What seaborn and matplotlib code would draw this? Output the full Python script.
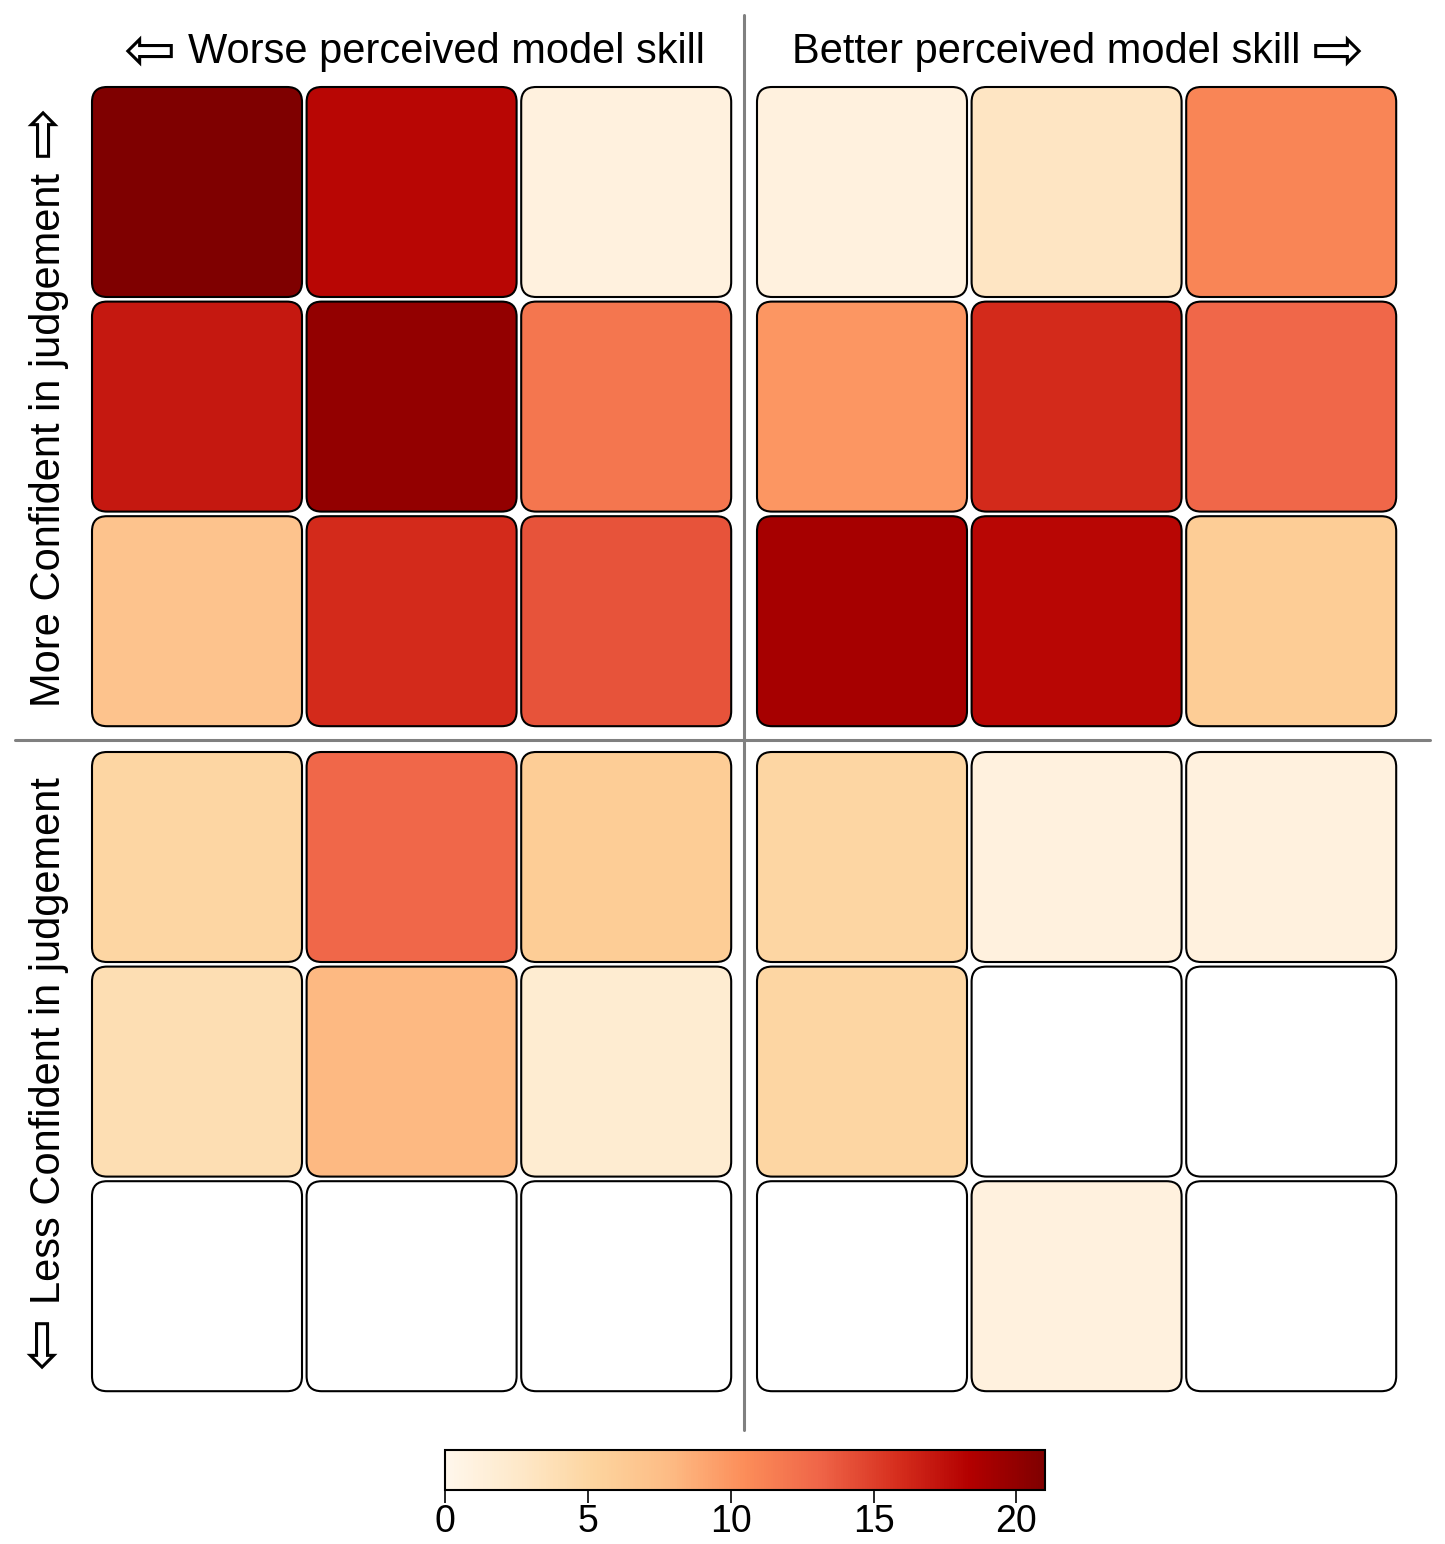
import numpy as np
import pandas as pd
import matplotlib.pyplot as plt
import seaborn as sns
from matplotlib.patches import FancyBboxPatch
from matplotlib.lines import Line2D

# counts per cell, top row = most confident, left columns = worse skill
row0 = [21, 18, 1, 1, 3, 11]
row1 = [17, 20, 12, 10, 16, 13]
row2 = [7, 16, 14, 19, 18, 6]
row3 = [5, 13, 6, 5, 1, 1]
row4 = [4, 8, 2, 5, 0, 0]
row5 = [0, 0, 0, 0, 1, 0]
cbar_ticks = [0, 5, 10, 15, 20]
vmax = 21

df = pd.DataFrame([row0, row1, row2, row3, row4, row5])

sns.set_style('white')
plt.rcParams['font.family'] = ['Liberation Sans', 'DejaVu Sans']
plt.rcParams['text.color'] = 'black'
plt.rcParams['xtick.color'] = 'black'

W, H = 1445, 1544
fig = plt.figure(figsize=(W / 100, H / 100), dpi=100)

side = 643.8
lefts = [89.7, 754.7]
tops = [84.7, 749.7]
cax = fig.add_axes([445 / W, 1 - 1490 / H, 600 / W, 40 / H])

pad = 2.3 / 214.6
for qi in range(2):
    for qj in range(2):
        ax = fig.add_axes([lefts[qj] / W, 1 - (tops[qi] + side) / H, side / W, side / H])
        sub = df.iloc[3 * qi:3 * qi + 3, 3 * qj:3 * qj + 3]
        first = qi == 0 and qj == 0
        sns.heatmap(sub, ax=ax, cmap='OrRd', vmin=0, vmax=vmax, mask=sub == 0,
                    cbar=first, cbar_ax=cax if first else None,
                    cbar_kws={'orientation': 'horizontal', 'ticks': cbar_ticks},
                    xticklabels=False, yticklabels=False)
        mesh = ax.collections[0]
        mesh.set_visible(False)
        for i in range(3):
            for j in range(3):
                v = sub.iloc[i, j]
                fc = mesh.cmap(mesh.norm(v)) if v > 0 else 'white'
                box = FancyBboxPatch((j + pad, i + pad), 1 - 2 * pad, 1 - 2 * pad,
                                     boxstyle='round,pad=0,rounding_size=0.07',
                                     facecolor=fc, edgecolor='black', linewidth=1.5)
                ax.add_patch(box)
        ax.set_axis_off()
        if first:
            cbar = mesh.colorbar

cbar.outline.set_linewidth(1.5)
cbar.outline.set_edgecolor('black')
cbar.ax.tick_params(labelsize=27, length=9, width=1.2, pad=1, colors='black')

# quadrant dividers
fig.add_artist(Line2D([744 / W, 744 / W], [1 - 15 / H, 1 - 1430 / H], color='grey', lw=2.2))
fig.add_artist(Line2D([15 / W, 1430 / W], [1 - 740 / H, 1 - 740 / H], color='grey', lw=2.2))

fs = 30
afs = 45
fig.text(446 / W, 1 - 52 / H, 'Worse perceived model skill', ha='center', va='center', fontsize=fs)
fig.text(1046 / W, 1 - 52 / H, 'Better perceived model skill', ha='center', va='center', fontsize=fs)
fig.text(150 / W, 1 - 47 / H, '⇦', ha='center', va='center_baseline', fontsize=afs,
         family='DejaVu Sans')
fig.text(1338 / W, 1 - 47 / H, '⇨', ha='center', va='center_baseline', fontsize=afs,
         family='DejaVu Sans')

fig.text(49 / W, 1 - 440 / H, 'More Confident in judgement', ha='center', va='center',
         rotation=90, fontsize=fs)
fig.text(49 / W, 1 - 1041 / H, 'Less Confident in judgement', ha='center', va='center',
         rotation=90, fontsize=fs)
fig.text(44 / W, 1 - 131 / H, '⇨', ha='center', va='center', rotation=90,
         fontsize=afs, family='DejaVu Sans')
fig.text(44 / W, 1 - 1343 / H, '⇦', ha='center', va='center', rotation=90,
         fontsize=afs, family='DejaVu Sans')

plt.savefig('out.png', dpi=100)
